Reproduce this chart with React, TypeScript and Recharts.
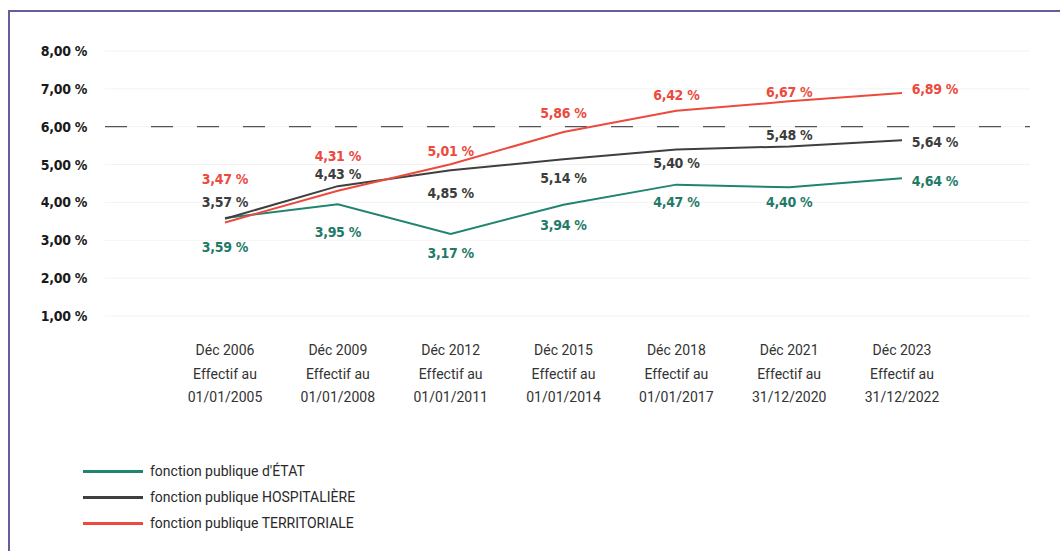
import { LineChart, Line, XAxis, YAxis, CartesianGrid, ReferenceLine, LabelList } from 'recharts';

const periods = ['Déc 2006', 'Déc 2009', 'Déc 2012', 'Déc 2015', 'Déc 2018', 'Déc 2021', 'Déc 2023'];
const effectifDates = ['01/01/2005', '01/01/2008', '01/01/2011', '01/01/2014', '01/01/2017', '31/12/2020', '31/12/2022'];

const etat = [3.59, 3.95, 3.17, 3.94, 4.47, 4.4, 4.64];
const hospitaliere = [3.57, 4.43, 4.85, 5.14, 5.4, 5.48, 5.64];
const territoriale = [3.47, 4.31, 5.01, 5.86, 6.42, 6.67, 6.89];

const yTicks = [1, 2, 3, 4, 5, 6, 7, 8];
const threshold = 6;

const data = periods.map((p, i) => ({
  period: p,
  date: effectifDates[i],
  etat: etat[i],
  hosp: hospitaliere[i],
  terr: territoriale[i],
}));

// label placement (pixels from the point) so labels don't overlap, like the original
const labelShift: Record<string, number[]> = {
  terr: [-43, -35, -13, -19, -16, -9, -4],
  hosp: [-17, -12, 23, 19, 14, -11, 2],
  etat: [29, 28, 19, 20, 17, 15, 3],
};

const series = [
  { key: 'etat', name: "fonction publique d'ÉTAT", color: '#1f8470', text: '#1f7a68' },
  { key: 'hosp', name: 'fonction publique HOSPITALIÈRE', color: '#3f3f3f', text: '#3d3d3d' },
  { key: 'terr', name: 'fonction publique TERRITORIALE', color: '#ec4a3c', text: '#ec4a3c' },
];

const fmt = (v: number) => `${v.toFixed(2).replace('.', ',')} %`;
const condensed = "'Liberation Sans Narrow', 'DejaVu Sans Condensed', sans-serif";

function XTick({ x, y, payload, index }: any) {
  return (
    <text x={x} y={y} textAnchor="middle" fill="#333" fontSize={14} fontFamily="Roboto, sans-serif">
      <tspan x={x} dy={31}>{payload.value}</tspan>
      <tspan x={x} dy={23.5}>Effectif au</tspan>
      <tspan x={x} dy={23.5}>{effectifDates[index]}</tspan>
    </text>
  );
}

function makeLabel(key: string, color: string) {
  return (props: any) => {
    const { x, y, value, index } = props;
    const last = index === periods.length - 1;
    return (
      <text
        x={x + (last ? 33 : 0)}
        y={y + labelShift[key][index]}
        dy="0.35em"
        textAnchor="middle"
        fill={color}
        fontSize={14}
        fontWeight="bold"
        letterSpacing={-0.3}
        fontFamily={condensed}
      >
        {fmt(value)}
      </text>
    );
  };
}

export default function App() {
  return (
    <div
      style={{
        position: 'absolute',
        left: 0,
        top: 0,
        width: 1060,
        height: 551,
        background: '#fff',
        overflow: 'hidden',
      }}
    >
      <div
        style={{
          position: 'absolute',
          left: 8,
          top: 10,
          right: 0,
          bottom: 0,
          borderTop: '2px solid #6b5b9d',
          borderLeft: '2px solid #6b5b9d',
        }}
      />
      <div style={{ position: 'absolute', left: 0, top: 0 }}>
        <LineChart width={1060} height={551} data={data} margin={{ top: 51, right: 30, bottom: 135, left: 0 }}>
          <CartesianGrid vertical={false} stroke="#f3f3f3" />
          <XAxis
            dataKey="period"
            axisLine={false}
            tickLine={false}
            height={100}
            padding={{ left: 120, right: 128 }}
            tick={<XTick />}
            interval={0}
          />
          <YAxis
            domain={[1, 8]}
            ticks={yTicks}
            width={105}
            axisLine={false}
            tickLine={false}
            tickMargin={12}
            tickFormatter={fmt}
            tick={{ fill: '#1a1a1a', fontSize: 14, fontWeight: 'bold', fontFamily: condensed, letterSpacing: -0.3 }}
          />
          <ReferenceLine y={threshold} stroke="#555" strokeDasharray="22 24" strokeWidth={1.3} />
          {series.map((s) => (
            <Line
              key={s.key}
              type="linear"
              dataKey={s.key}
              name={s.name}
              stroke={s.color}
              strokeWidth={2}
              dot={false}
              isAnimationActive={false}
            >
              <LabelList dataKey={s.key} content={makeLabel(s.key, s.text)} />
            </Line>
          ))}
        </LineChart>
      </div>
      <div style={{ position: 'absolute', left: 83, top: 458, fontFamily: 'Roboto, sans-serif', fontSize: 14, color: '#2a2a2a' }}>
        {series.map((s) => (
          <div key={s.key} style={{ display: 'flex', alignItems: 'center', height: 26 }}>
            <span style={{ display: 'inline-block', width: 60, height: 3, background: s.color, marginRight: 7 }} />
            <span>{s.name}</span>
          </div>
        ))}
      </div>
    </div>
  );
}
